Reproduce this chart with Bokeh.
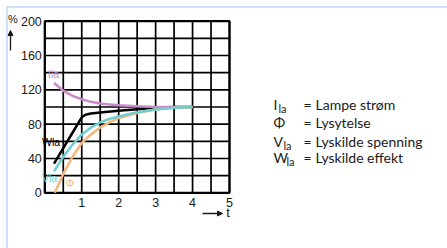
from bokeh.plotting import figure
from bokeh.models import Range1d, FixedTicker, Label, Arrow, NormalHead, BoxAnnotation
from bokeh.embed import file_html
from bokeh.resources import INLINE

# ---- data ----
t_ila = [0.25, 0.5, 0.75, 1.0, 1.25, 1.5, 1.75, 2.0, 2.5, 3.0, 3.5, 4.0]
ila = [128, 119, 113, 109, 106, 104, 103, 102, 101, 100, 100, 100]

t_wla = [0.25, 0.5, 0.75, 1.0, 1.1, 1.25, 1.5, 2.0, 2.5, 3.0, 3.5, 4.0]
wla = [34, 52, 70, 88, 91, 92.5, 93.5, 95.5, 97.5, 99, 100, 100]

t_vla = [0.25, 0.5, 0.75, 1.0, 1.25, 1.5, 1.75, 2.0, 2.5, 3.0, 3.5, 4.0]
vla = [25, 42, 56, 68, 76, 82, 86, 89, 94, 97, 99, 100]

t_phi = [0.27, 0.5, 0.75, 1.0, 1.25, 1.5, 1.75, 2.0, 2.5, 3.0, 3.5, 4.0]
phi = [0, 22, 42, 58, 68, 76, 82, 87, 93, 97, 99, 100]

x_ticks = [1, 2, 3, 4, 5]
y_ticks = [0, 40, 80, 120, 160, 200]
x_grid = [0.5 * i for i in range(11)]
y_grid = [20 * i for i in range(11)]

legend_symbols = ["I", "\u03a6", "V", "W"]
legend_subs = ["la", "", "la", "la"]
legend_texts = ["Lampe str\u00f8m", "Lysytelse", "Lyskilde spenning", "Lyskilde effekt"]

PINK = "#c98bc9"
TEAL = "#6dcfcf"
ORANGE = "#f7b77b"
BLUE = "#5b9cf0"
INK = "#1a1a1a"

W, H = 447, 248
# where the grid box sits on the canvas (px)
FL, FR, FT, FB = 44.3, 229.0, 20.7, 192.3
sx = (x_grid[-1] - x_grid[0]) / (FR - FL)
sy = (y_grid[-1] - y_grid[0]) / (FB - FT)


def dx(px):
    return (px - FL) * sx


def dy(py):
    return (FB - py) * sy


p = figure(width=W, height=H, output_backend="svg", toolbar_location=None,
           x_range=Range1d(dx(0), dx(W)), y_range=Range1d(dy(H), dy(0)),
           min_border=0)
p.background_fill_color = "white"
p.border_fill_color = "white"
p.outline_line_color = None
p.grid.visible = False

for ax in (p.xaxis[0], p.yaxis[0]):
    ax.fixed_location = 0
    ax.axis_line_color = None
    ax.major_tick_line_color = None
    ax.minor_tick_line_color = None
    ax.major_tick_in = 0
    ax.major_tick_out = 0
    ax.major_label_text_font = "Liberation Sans"
    ax.major_label_text_font_size = "12.5px"
    ax.major_label_text_color = INK
p.xaxis.ticker = FixedTicker(ticks=x_ticks)
p.yaxis.ticker = FixedTicker(ticks=y_ticks)
p.xaxis.major_label_standoff = 5
p.yaxis.major_label_standoff = 3

# grid
p.segment(x0=x_grid, y0=[y_grid[0]] * len(x_grid), x1=x_grid, y1=[y_grid[-1]] * len(x_grid),
          line_color="black", line_width=1.7)
p.segment(x0=[x_grid[0]] * len(y_grid), y0=y_grid, x1=[x_grid[-1]] * len(y_grid), y1=y_grid,
          line_color="black", line_width=1.7)
p.quad(left=x_grid[0], right=x_grid[-1], bottom=y_grid[0], top=y_grid[-1],
       fill_color=None, line_color="black", line_width=2.2)

# curves
p.line(t_wla, wla, line_color="black", line_width=2.5)
p.line(t_ila, ila, line_color=PINK, line_width=2.5)
p.line(t_phi, phi, line_color=ORANGE, line_width=2.5)
p.line(t_vla, vla, line_color=TEAL, line_width=2.5)


def lab(px, py, text, color, size="10px", align="left", font="Liberation Sans"):
    p.add_layout(Label(x=dx(px), y=dy(py), text=text, text_color=color, text_font_size=size,
                       text_font=font, text_align=align, text_baseline="middle"))


# curve labels
lab(47.5, 73.5, "Ila", PINK, "10.5px")
lab(41.5, 141, "Wla", "black", "10.5px")
lab(41.5, 177.5, "Vla", TEAL, "10.5px")
lab(65, 182.5, "\u03a6", ORANGE, "11px")

# axis decorations
lab(12.5, 18.5, "%", INK, "11px", "center")
p.add_layout(Arrow(x_start=dx(10), y_start=dy(50), x_end=dx(10), y_end=dy(30),
                   line_color=INK, line_width=1.3,
                   end=NormalHead(size=5, fill_color=INK, line_color=INK)))
p.add_layout(Arrow(x_start=dx(202), y_start=dy(213), x_end=dx(222), y_end=dy(213),
                   line_color=INK, line_width=1.3,
                   end=NormalHead(size=5, fill_color=INK, line_color=INK)))
lab(227.5, 212, "t", INK, "13px", "center")

# legend
rows_py = [104, 122, 140.5, 157]
sub_dx = {"I": 5, "V": 10, "W": 13}
for sym, sub, txt, py in zip(legend_symbols, legend_subs, legend_texts, rows_py):
    lab(273, py, sym, INK, "14px", font="Lato")
    if sub:
        lab(273 + sub_dx[sym], py + 4, sub, INK, "11px", font="Lato")
    lab(303, py, "=", INK, "14px", font="Lato")
    lab(315, py, txt, INK, "14px", font="Lato")

# blue page frame (top and left edges visible)
p.add_layout(BoxAnnotation(left=dx(6.5), top=dy(6.5), right=dx(W + 20), bottom=dy(H + 20),
                           fill_color=None, fill_alpha=0, line_color=BLUE, line_width=2))

open("out.html", "w").write(file_html(p, INLINE))
